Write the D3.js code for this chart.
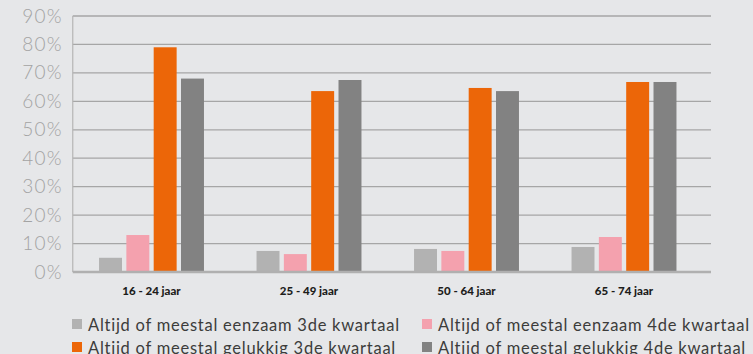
<!DOCTYPE html>
<html>
<head>
<meta charset="utf-8">
<script src="https://cdn.jsdelivr.net/npm/d3@7"></script>
<style>
  html, body { margin: 0; padding: 0; background: #e6e7e9; }
  svg { display: block; }
</style>
</head>
<body>
<svg id="chart" width="753" height="354"></svg>
<script>
// Age groups on the x axis
const categories = ["16 - 24 jaar", "25 - 49 jaar", "50 - 64 jaar", "65 - 74 jaar"];

// Series (share of respondents per age group)
const seriesNames = [
  "Altijd of meestal eenzaam 3de kwartaal",
  "Altijd of meestal eenzaam 4de kwartaal",
  "Altijd of meestal gelukkig 3de kwartaal",
  "Altijd of meestal gelukkig 4de kwartaal"
];
const eenzaam3 = [0.05, 0.074, 0.081, 0.088];
const eenzaam4 = [0.13, 0.063, 0.074, 0.123];
const gelukkig3 = [0.79, 0.636, 0.647, 0.668];
const gelukkig4 = [0.68, 0.675, 0.636, 0.668];
const seriesValues = [eenzaam3, eenzaam4, gelukkig3, gelukkig4];
const seriesColors = ["#b2b2b2", "#f4a1ae", "#ec6608", "#828282"];

// Y axis ticks
const yTicks = [0, 0.1, 0.2, 0.3, 0.4, 0.5, 0.6, 0.7, 0.8, 0.9];

const svg = d3.select("#chart");
const plotLeft = 72.75, plotRight = 702.75, gridRight = 711;
const plotTop = 16, plotBottom = 272;

const y = d3.scaleLinear().domain([0, 0.9]).range([plotBottom, plotTop]);
const x0 = d3.scaleBand().domain(categories).range([plotLeft, plotRight])
  .paddingInner(0.306).paddingOuter(0.153);
const x1 = d3.scaleBand().domain(d3.range(seriesNames.length)).range([0, x0.bandwidth()])
  .paddingInner(0.16).paddingOuter(0.08);

// Gridlines
svg.append("g").selectAll("line")
  .data(yTicks.filter(d => d > 0))
  .join("line")
  .attr("x1", plotLeft).attr("x2", gridRight)
  .attr("y1", d => y(d)).attr("y2", d => y(d))
  .attr("stroke", "#a6a6a6").attr("stroke-width", 1.3);

// Y axis labels
const yAxis = d3.axisLeft(y).tickValues(yTicks).tickFormat(d3.format(".0%")).tickSize(0).tickPadding(10);
const gy = svg.append("g").attr("transform", `translate(${plotLeft},0)`).call(yAxis);
gy.select(".domain").remove();
gy.selectAll("text")
  .attr("font-family", "Lato, 'Open Sans', sans-serif")
  .attr("font-weight", 300)
  .attr("font-size", 19)
  .attr("letter-spacing", 1.2)
  .attr("fill", "#a3a3a3");

// Bars
const groups = svg.append("g").selectAll("g")
  .data(categories)
  .join("g")
  .attr("transform", d => `translate(${x0(d)},0)`);

groups.selectAll("rect")
  .data((c, ci) => seriesValues.map((vals, si) => ({ si, v: vals[ci] })))
  .join("rect")
  .attr("x", d => x1(d.si))
  .attr("width", x1.bandwidth())
  .attr("y", d => y(d.v))
  .attr("height", d => y(0) - y(d.v))
  .attr("fill", d => seriesColors[d.si]);

// Vertical axis line
svg.append("line")
  .attr("x1", plotLeft).attr("x2", plotLeft)
  .attr("y1", plotTop).attr("y2", plotBottom)
  .attr("stroke", "#b5b5b5").attr("stroke-width", 1.2);

// Baseline
svg.append("line")
  .attr("x1", plotLeft).attr("x2", gridRight)
  .attr("y1", y(0)).attr("y2", y(0))
  .attr("stroke", "#b0b0b0").attr("stroke-width", 2.4);

// Category labels
const xAxis = d3.axisBottom(x0).tickSize(0).tickPadding(15);
const gx = svg.append("g").attr("transform", `translate(0,${plotBottom})`).call(xAxis);
gx.select(".domain").remove();
gx.selectAll("text")
  .attr("font-family", "Lato, 'Open Sans', sans-serif")
  .attr("font-weight", 900)
  .attr("font-size", 11.5)
  .attr("fill", "#1d1d1b");

// Legend
const legendPos = [
  { x: 72, y: 325 }, { x: 422, y: 325 },
  { x: 72, y: 348 }, { x: 422, y: 348 }
];
const legend = svg.append("g").selectAll("g")
  .data(seriesNames)
  .join("g")
  .attr("transform", (d, i) => `translate(${legendPos[i].x},${legendPos[i].y})`);
legend.append("rect")
  .attr("x", 0).attr("y", -6).attr("width", 10).attr("height", 10)
  .attr("fill", (d, i) => seriesColors[i]);
legend.append("text")
  .attr("x", 16).attr("y", 0).attr("dy", "0.35em")
  .attr("font-family", "Lato, 'Open Sans', sans-serif")
  .attr("font-weight", 400)
  .attr("font-size", 16.5)
  .attr("letter-spacing", 0.75)
  .attr("fill", "#3c3c3b")
  .text(d => d);
</script>
</body>
</html>
